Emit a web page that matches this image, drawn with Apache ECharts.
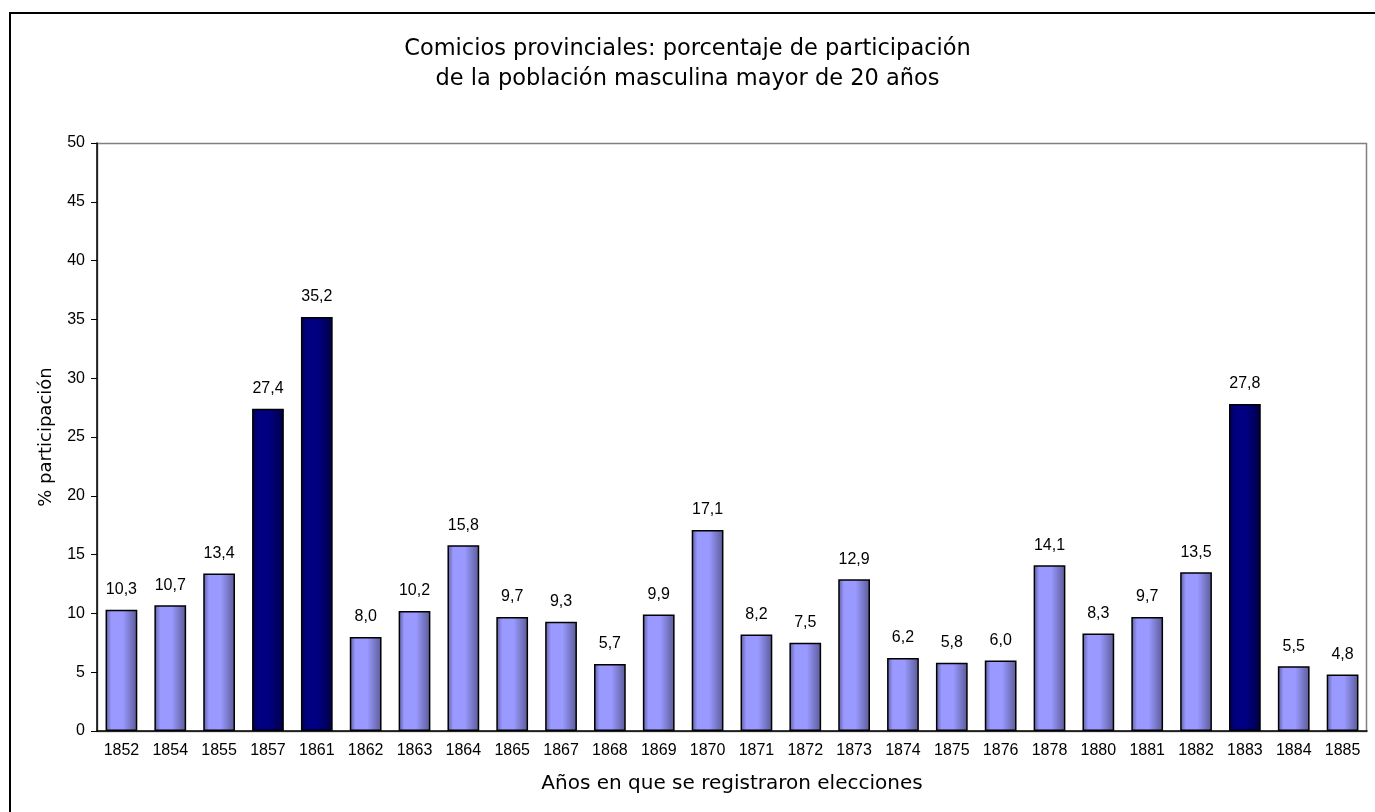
<!DOCTYPE html>
<html>
<head>
<meta charset="utf-8">
<script src="https://cdn.jsdelivr.net/npm/echarts@6/dist/echarts.min.js"></script>
<style>
  html, body { margin: 0; padding: 0; background: #fff; }
  #chart { width: 1375px; height: 812px; }
</style>
</head>
<body>
<div id="chart"></div>
<script>
// Años con elecciones provinciales y porcentaje de participación
const years = ['1852','1854','1855','1857','1861','1862','1863','1864','1865','1867','1868','1869','1870','1871','1872','1873','1874','1875','1876','1878','1880','1881','1882','1883','1884','1885'];
const participation = [10.3,10.7,13.4,27.4,35.2,8.0,10.2,15.8,9.7,9.3,5.7,9.9,17.1,8.2,7.5,12.9,6.2,5.8,6.0,14.1,8.3,9.7,13.5,27.8,5.5,4.8];
// Años destacados en azul oscuro
const highlighted = ['1857','1861','1883'];

const ARIAL = 'Liberation Sans, Arial, sans-serif';
const VERDANA = 'DejaVu Sans, Verdana, sans-serif';

const lightFill = new echarts.graphic.LinearGradient(0, 0, 1, 0, [
  { offset: 0, color: '#5c5c9c' },
  { offset: 0.18, color: '#9999ff' },
  { offset: 0.55, color: '#9999ff' },
  { offset: 1, color: '#5a5a96' }
]);
const darkFill = new echarts.graphic.LinearGradient(0, 0, 1, 0, [
  { offset: 0, color: '#00004a' },
  { offset: 0.18, color: '#000080' },
  { offset: 0.55, color: '#000080' },
  { offset: 1, color: '#000046' }
]);

const chart = echarts.init(document.getElementById('chart'));
chart.setOption({
  backgroundColor: '#fff',
  animation: false,
  title: {
    text: 'Comicios provinciales: porcentaje de participación\nde la población masculina mayor de 20 años',
    left: 'center',
    top: 29,
    textStyle: {
      fontFamily: VERDANA,
      fontWeight: 'normal',
      fontSize: 22.5,
      lineHeight: 30,
      color: '#000'
    }
  },
  graphic: [{
    type: 'rect',
    shape: { x: 10, y: 13, width: 1400, height: 900 },
    style: { fill: 'none', stroke: '#000', lineWidth: 2 },
    silent: true
  }, {
    type: 'rect',
    shape: { x: 97.5, y: 143.5, width: 1269, height: 588 },
    style: { fill: 'none', stroke: '#808080', lineWidth: 1.5 },
    silent: true,
    z: 0
  }],
  grid: { left: 97, right: 8, top: 143, bottom: 81 },
  xAxis: {
    type: 'category',
    data: years,
    name: 'Años en que se registraron elecciones',
    nameLocation: 'middle',
    nameGap: 43,
    nameTextStyle: { fontFamily: VERDANA, fontSize: 20, color: '#000' },
    axisLine: { lineStyle: { color: '#000', width: 1.5 } },
    axisTick: { alignWithLabel: false, length: 6, lineStyle: { color: '#000' } },
    axisLabel: { fontFamily: ARIAL, fontSize: 16, color: '#000', margin: 12 }
  },
  yAxis: {
    type: 'value',
    min: 0,
    max: 50,
    interval: 5,
    name: '% participación',
    nameLocation: 'middle',
    nameGap: 42,
    nameTextStyle: { fontFamily: VERDANA, fontSize: 18, color: '#000' },
    axisLine: { show: true, lineStyle: { color: '#000', width: 1.5 } },
    axisTick: { show: true, length: 6, lineStyle: { color: '#000' } },
    axisLabel: { fontFamily: ARIAL, fontSize: 16, color: '#000', margin: 12 },
    splitLine: { show: false }
  },
  series: [{
    type: 'bar',
    barWidth: '65%',
    data: participation.map((v, i) => ({
      value: v,
      itemStyle: {
        color: highlighted.includes(years[i]) ? darkFill : lightFill,
        borderColor: '#000',
        borderWidth: 1.5
      }
    })),
    label: {
      show: true,
      position: 'top',
      distance: 12,
      fontFamily: ARIAL,
      fontSize: 16,
      color: '#000',
      formatter: p => p.value.toFixed(1).replace('.', ',')
    }
  }]
});
</script>
</body>
</html>
